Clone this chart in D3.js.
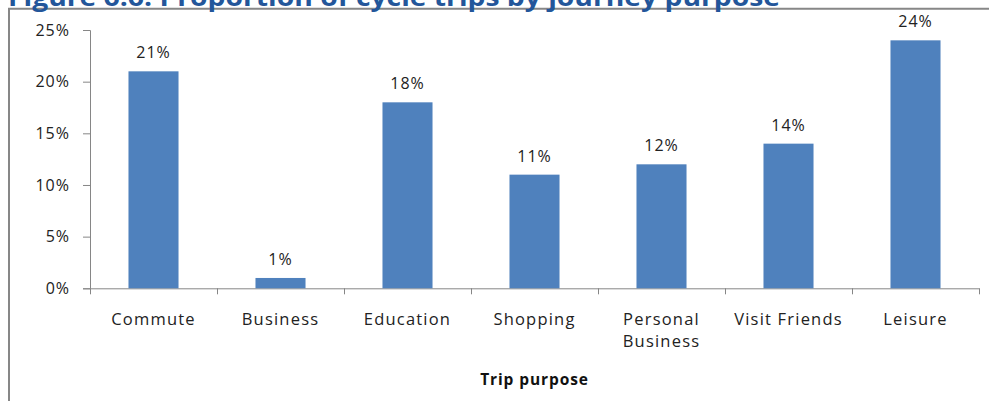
<!DOCTYPE html>
<html>
<head>
<meta charset="utf-8">
<script src="https://cdn.jsdelivr.net/npm/d3@7"></script>
<style>
  body { margin: 0; background: #fff; }
  svg { display: block; }
  text { font-family: "Open Sans", "Noto Sans", sans-serif; fill: #222; }
</style>
</head>
<body>
<svg width="989" height="401"></svg>
<script>
var categories = ["Commute", "Business", "Education", "Shopping", "Personal Business", "Visit Friends", "Leisure"];
var values = [21, 1, 18, 11, 12, 14, 24];
var tickLabels = [["Commute"], ["Business"], ["Education"], ["Shopping"], ["Personal", "Business"], ["Visit Friends"], ["Leisure"]];
var yTicks = [0, 5, 10, 15, 20, 25];

var svg = d3.select("svg");

// frame round the chart (only top and left edges show)
svg.append("path")
  .attr("d", "M9,401V8.8H989")
  .attr("fill", "none")
  .attr("stroke", "#878787")
  .attr("stroke-width", 2);

// title, mostly cut off at the top (as in the source page)
svg.append("text")
  .attr("x", 8)
  .attr("y", 6)
  .attr("textLength", 772)
  .attr("lengthAdjust", "spacingAndGlyphs")
  .style("font-family", "'Open Sans', sans-serif")
  .style("font-weight", "bold")
  .style("font-size", "25px")
  .style("fill", "#23569A")
  .text("Figure 6.6: Proportion of cycle trips by journey purpose");

var x = d3.scaleBand().domain(categories).range([90, 979]).padding(0);
var y = d3.scaleLinear().domain([0, 25]).range([288.3, 30]);
var barW = x.bandwidth() * 0.394;

// y axis
var yAxis = svg.append("g")
  .attr("transform", "translate(90,0)")
  .call(d3.axisLeft(y).tickValues(yTicks).tickSize(7).tickPadding(13).tickFormat(function (d) { return d + "%"; }));
yAxis.selectAll("path, line").attr("stroke", "#868686");
yAxis.selectAll("text")
  .style("font-size", "16px")
  .style("letter-spacing", "1px")
  .style("fill", "#222");

// x axis: ticks sit on the band edges
var xEdges = d3.scaleLinear().domain([0, categories.length]).range(x.range());
var xAxis = svg.append("g")
  .attr("transform", "translate(0," + y(0) + ")")
  .call(d3.axisBottom(xEdges).ticks(categories.length).tickSize(6).tickSizeOuter(0).tickFormat(""));
xAxis.selectAll("path, line").attr("stroke", "#868686");

// bars
svg.append("g")
  .selectAll("rect")
  .data(values)
  .enter()
  .append("rect")
  .attr("x", function (d, i) { return x(categories[i]) + (x.bandwidth() - barW) / 2; })
  .attr("y", function (d) { return y(d); })
  .attr("width", barW)
  .attr("height", function (d) { return y(0) - y(d); })
  .attr("fill", "#4F81BD");

// value labels
svg.append("g")
  .selectAll("text")
  .data(values)
  .enter()
  .append("text")
  .attr("x", function (d, i) { return x(categories[i]) + x.bandwidth() / 2; })
  .attr("y", function (d) { return y(d) - 13; })
  .attr("text-anchor", "middle")
  .style("font-size", "16px")
  .style("letter-spacing", "1px")
  .text(function (d) { return d + "%"; });

// category labels
var catLabels = svg.append("g")
  .selectAll("text")
  .data(tickLabels)
  .enter()
  .append("text")
  .attr("x", function (d, i) { return x(categories[i]) + x.bandwidth() / 2; })
  .attr("y", 325)
  .attr("text-anchor", "middle")
  .style("font-size", "16.5px")
  .style("letter-spacing", "1.2px");
catLabels.selectAll("tspan")
  .data(function (d) { return d; })
  .enter()
  .append("tspan")
  .attr("x", function () { return this.parentNode.getAttribute("x"); })
  .attr("dy", function (d, i) { return i === 0 ? 0 : 21.5; })
  .text(function (d) { return d; });

// axis title
svg.append("text")
  .attr("x", (x.range()[0] + x.range()[1]) / 2)
  .attr("y", 385)
  .attr("text-anchor", "middle")
  .style("font-size", "15.5px")
  .style("font-weight", "bold")
  .style("letter-spacing", "0.9px")
  .style("fill", "#111")
  .text("Trip purpose");
</script>
</body>
</html>
